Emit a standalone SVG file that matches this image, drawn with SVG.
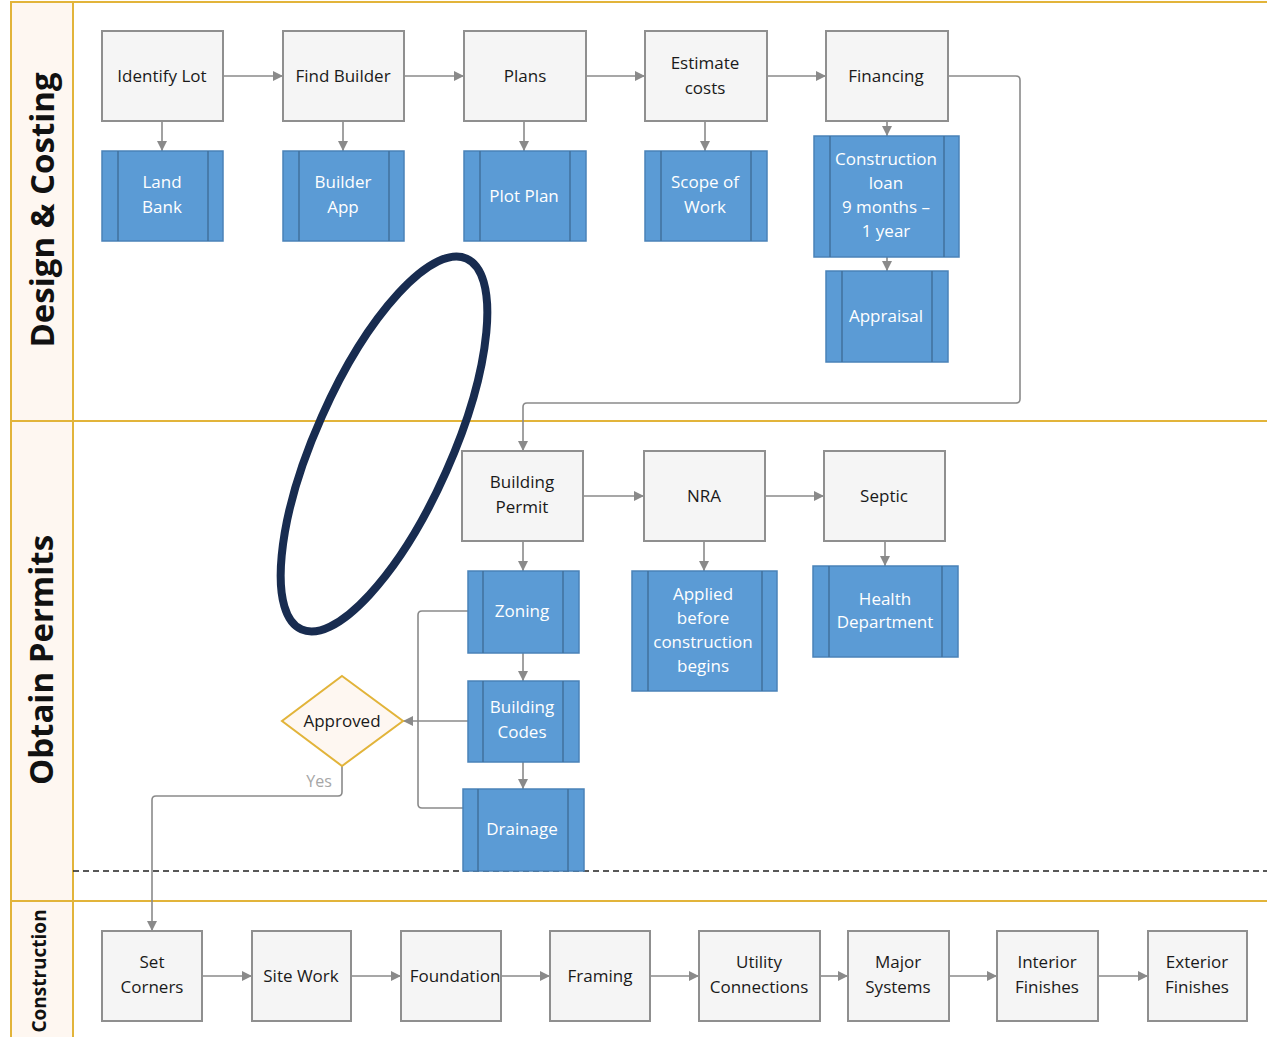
<svg xmlns="http://www.w3.org/2000/svg" width="1267" height="1037" viewBox="0 0 1267 1037">
<defs>
<marker id="ah" viewBox="0 0 10 10" refX="10" refY="5" markerWidth="10" markerHeight="10" markerUnits="userSpaceOnUse" orient="auto">
<path d="M0,0 L10,5 L0,10 z" fill="#8a8a8a"/>
</marker>
<style>
.lane{fill:none;stroke:#E2B43A;stroke-width:2}
.hdr{fill:#FEF7F1;stroke:#E2B43A;stroke-width:2}
.ltitle{font-family:"Open Sans","Noto Sans",sans-serif;font-weight:bold;fill:#111;text-anchor:middle}
.g rect{fill:#F5F5F5;stroke:#8f8f8f;stroke-width:2}
.g text{font-family:"Open Sans","Noto Sans",sans-serif;font-size:17px;fill:#1a1a1a;text-anchor:middle}
.b rect{fill:#5B9BD5;stroke:#4A82B8;stroke-width:1.5}
.b line{stroke:#41719C;stroke-width:1.5}
.b text{font-family:"Open Sans","Noto Sans",sans-serif;font-size:17px;fill:#fff;text-anchor:middle}
.c path{fill:none;stroke:#8a8a8a;stroke-width:1.6;marker-end:url(#ah)}
.c path.n{marker-end:none}
</style>
</defs>
<rect width="1267" height="1037" fill="#fff"/>
<!-- lanes -->
<g id="lanes">
<rect class="hdr" x="11" y="2" width="62" height="1040"/>
<line class="lane" x1="11" y1="2" x2="1267" y2="2"/>
<line class="lane" x1="11" y1="421" x2="1267" y2="421"/>
<line class="lane" x1="11" y1="901" x2="1267" y2="901"/>
<text class="ltitle" font-size="33" transform="translate(54,210) rotate(-90)">Design &amp; Costing</text>
<text class="ltitle" font-size="33" transform="translate(53,660) rotate(-90)">Obtain Permits</text>
<text class="ltitle" font-size="19" transform="translate(46,971) rotate(-90)">Construction</text>
<line x1="73" y1="871" x2="1267" y2="871" stroke="#222" stroke-width="1.5" stroke-dasharray="6,4"/>
</g>
<!-- connectors -->
<g id="connectors" class="c">
<path d="M223,76 H283"/>
<path d="M404,76 H464"/>
<path d="M586,76 H645"/>
<path d="M767,76 H826"/>
<path d="M162,121 V151"/>
<path d="M343,121 V151"/>
<path d="M524,121 V151"/>
<path d="M705,121 V151"/>
<path d="M887,122 V136"/>
<path d="M887,257 V271"/>
<path d="M948,76 H1016 Q1020,76 1020,80 V399 Q1020,403 1016,403 H527 Q523,403 523,407 V451"/>
<path d="M583,496 H644"/>
<path d="M765,496 H824"/>
<path d="M523,541 V571"/>
<path d="M704,541 V571"/>
<path d="M885,541 V566"/>
<path d="M523,653 V681"/>
<path d="M523,762 V789"/>
<path class="n" d="M468,611 H422 Q418,611 418,615 V804 Q418,808 422,808 H463"/>
<path d="M468,721 H403"/>
<path d="M342,766 V792 Q342,796 338,796 H156 Q152,796 152,800 V931"/>
<path d="M202,976 H252"/>
<path d="M351,976 H401"/>
<path d="M501,976 H550"/>
<path d="M650,976 H699"/>
<path d="M820,976 H848"/>
<path d="M949,976 H997"/>
<path d="M1098,976 H1148"/>
<text x="319" y="787" font-family="Open Sans, Noto Sans, sans-serif" font-size="16" fill="#a6a6a6" text-anchor="middle">Yes</text>
</g>
<!-- lane 1 -->
<g id="identify-lot" class="g"><rect x="102" y="31" width="121" height="90"/><text x="162" y="82">Identify Lot</text></g>
<g id="find-builder" class="g"><rect x="283" y="31" width="121" height="90"/><text x="343" y="82">Find Builder</text></g>
<g id="plans" class="g"><rect x="464" y="31" width="122" height="90"/><text x="525" y="82">Plans</text></g>
<g id="estimate-costs" class="g"><rect x="645" y="31" width="122" height="90"/><text x="705" y="69">Estimate</text><text x="705" y="94">costs</text></g>
<g id="financing" class="g"><rect x="826" y="31" width="122" height="90"/><text x="886" y="82">Financing</text></g>
<g id="land-bank" class="b"><rect x="102" y="151" width="121" height="90"/><line x1="118" y1="151" x2="118" y2="241"/><line x1="208" y1="151" x2="208" y2="241"/><text x="162" y="188">Land</text><text x="162" y="213">Bank</text></g>
<g id="builder-app" class="b"><rect x="283" y="151" width="121" height="90"/><line x1="299" y1="151" x2="299" y2="241"/><line x1="389" y1="151" x2="389" y2="241"/><text x="343" y="188">Builder</text><text x="343" y="213">App</text></g>
<g id="plot-plan" class="b"><rect x="464" y="151" width="122" height="90"/><line x1="480" y1="151" x2="480" y2="241"/><line x1="570" y1="151" x2="570" y2="241"/><text x="524" y="202">Plot Plan</text></g>
<g id="scope-of-work" class="b"><rect x="645" y="151" width="122" height="90"/><line x1="661" y1="151" x2="661" y2="241"/><line x1="751" y1="151" x2="751" y2="241"/><text x="705" y="188">Scope of</text><text x="705" y="213">Work</text></g>
<g id="construction-loan" class="b"><rect x="814" y="136" width="145" height="121"/><line x1="830" y1="136" x2="830" y2="257"/><line x1="944" y1="136" x2="944" y2="257"/><text x="886" y="165">Construction</text><text x="886" y="189">loan</text><text x="886" y="213">9 months –</text><text x="886" y="237">1 year</text></g>
<g id="appraisal" class="b"><rect x="826" y="271" width="122" height="91"/><line x1="842" y1="271" x2="842" y2="362"/><line x1="932" y1="271" x2="932" y2="362"/><text x="886" y="322">Appraisal</text></g>
<!-- lane 2 -->
<g id="building-permit" class="g"><rect x="462" y="451" width="121" height="90"/><text x="522" y="488">Building</text><text x="522" y="513">Permit</text></g>
<g id="nra" class="g"><rect x="644" y="451" width="121" height="90"/><text x="704" y="502">NRA</text></g>
<g id="septic" class="g"><rect x="824" y="451" width="121" height="90"/><text x="884" y="502">Septic</text></g>
<g id="zoning" class="b"><rect x="468" y="571" width="111" height="82"/><line x1="483" y1="571" x2="483" y2="653"/><line x1="563" y1="571" x2="563" y2="653"/><text x="522" y="617">Zoning</text></g>
<g id="building-codes" class="b"><rect x="468" y="681" width="111" height="81"/><line x1="483" y1="681" x2="483" y2="762"/><line x1="563" y1="681" x2="563" y2="762"/><text x="522" y="713">Building</text><text x="522" y="738">Codes</text></g>
<g id="drainage" class="b"><rect x="463" y="789" width="121" height="82"/><line x1="478" y1="789" x2="478" y2="871"/><line x1="568" y1="789" x2="568" y2="871"/><text x="522" y="835">Drainage</text></g>
<g id="applied" class="b"><rect x="632" y="571" width="145" height="120"/><line x1="648" y1="571" x2="648" y2="691"/><line x1="762" y1="571" x2="762" y2="691"/><text x="703" y="600">Applied</text><text x="703" y="624">before</text><text x="703" y="648">construction</text><text x="703" y="672">begins</text></g>
<g id="health-department" class="b"><rect x="813" y="566" width="145" height="91"/><line x1="829" y1="566" x2="829" y2="657"/><line x1="942" y1="566" x2="942" y2="657"/><text x="885" y="605">Health</text><text x="885" y="628">Department</text></g>
<g id="approved"><path d="M342,676 L403,721 L342,766 L282,721 Z" fill="#FEF7F1" stroke="#E2B43A" stroke-width="2"/><text x="342" y="727" font-family="Open Sans, Noto Sans, sans-serif" font-size="17" fill="#1a1a1a" text-anchor="middle">Approved</text></g>
<!-- lane 3 -->
<g id="set-corners" class="g"><rect x="102" y="931" width="100" height="90"/><text x="152" y="968">Set</text><text x="152" y="993">Corners</text></g>
<g id="site-work" class="g"><rect x="252" y="931" width="99" height="90"/><text x="301" y="982">Site Work</text></g>
<g id="foundation" class="g"><rect x="401" y="931" width="100" height="90"/><text x="455" y="982">Foundation</text></g>
<g id="framing" class="g"><rect x="550" y="931" width="100" height="90"/><text x="600" y="982">Framing</text></g>
<g id="utility-connections" class="g"><rect x="699" y="931" width="121" height="90"/><text x="759" y="968">Utility</text><text x="759" y="993">Connections</text></g>
<g id="major-systems" class="g"><rect x="848" y="931" width="101" height="90"/><text x="898" y="968">Major</text><text x="898" y="993">Systems</text></g>
<g id="interior-finishes" class="g"><rect x="997" y="931" width="101" height="90"/><text x="1047" y="968">Interior</text><text x="1047" y="993">Finishes</text></g>
<g id="exterior-finishes" class="g"><rect x="1148" y="931" width="99" height="90"/><text x="1197" y="968">Exterior</text><text x="1197" y="993">Finishes</text></g>
<!-- annotation -->
<ellipse cx="0" cy="0" rx="203" ry="68" transform="translate(384,444) rotate(-66)" fill="none" stroke="#182C50" stroke-width="8"/>
</svg>
